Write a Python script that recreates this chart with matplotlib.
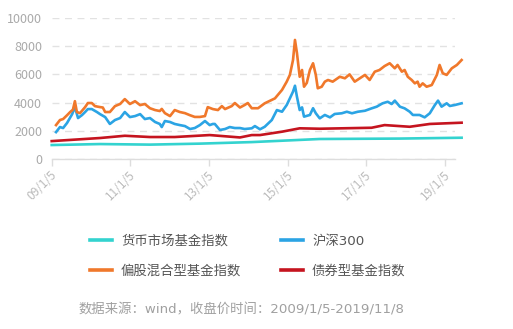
import matplotlib
matplotlib.use("Agg")
import matplotlib.pyplot as plt
from matplotlib.transforms import ScaledTranslation

plt.rcParams['font.family'] = ['Noto Sans CJK SC', 'DejaVu Sans']

# ---- data (x = years since 2009/1/5) ----
tick_years = [0, 2, 4, 6, 8, 10]
tick_labels = ['09/1/5', '11/1/5', '13/1/5', '15/1/5', '17/1/5', '19/1/5']
y_ticks = [0, 2000, 4000, 6000, 8000, 10000]

series_names = ['货币市场基金指数', '偏股混合型基金指数', '沪深300', '债券型基金指数']

mix_t = [0.11, 0.21, 0.29, 0.39, 0.47, 0.54, 0.59, 0.64, 0.72, 0.85, 0.92, 1.02, 1.10, 1.23, 1.30, 1.36,
         1.48, 1.61, 1.74, 1.86, 1.99, 2.12, 2.25, 2.37, 2.50, 2.63, 2.75, 2.80, 2.88, 3.01, 3.13, 3.26,
         3.39, 3.52, 3.64, 3.77, 3.90, 3.97, 4.10, 4.23, 4.33, 4.41, 4.58, 4.66, 4.79, 4.91, 4.99, 5.09,
         5.25, 5.42, 5.68, 5.86, 5.98, 6.06, 6.14, 6.19, 6.24, 6.31, 6.37, 6.42, 6.49, 6.57, 6.65, 6.72,
         6.77, 6.87, 6.95, 7.03, 7.15, 7.33, 7.46, 7.58, 7.71, 7.84, 7.97, 8.09, 8.22, 8.34, 8.47, 8.60,
         8.73, 8.80, 8.91, 8.98, 9.06, 9.16, 9.24, 9.31, 9.36, 9.44, 9.54, 9.67, 9.80, 9.87, 9.95, 10.05,
         10.18, 10.31, 10.43]
mix_v = [2400, 2760, 2830, 3100, 3330, 3500, 4100, 3330, 3250, 3680, 3970, 3970, 3750, 3680, 3650, 3330,
         3330, 3750, 3900, 4250, 3900, 4100, 3820, 3900, 3600, 3470, 3400, 3550, 3250, 3040, 3470, 3330,
         3250, 3100, 2980, 2980, 3040, 3680, 3540, 3470, 3750, 3540, 3750, 3970, 3650, 3830, 3970, 3600,
         3600, 3950, 4300, 4900, 5490, 5970, 7030, 8460, 7530, 5840, 6320, 5130, 5400, 6320, 6800, 5970,
         5020, 5130, 5490, 5610, 5490, 5840, 5730, 6010, 5490, 5730, 5970, 5610, 6200, 6320, 6600, 6800,
         6440, 6680, 6200, 6320, 5840, 5610, 5370, 5490, 5130, 5370, 5130, 5250, 5970, 6680, 6090, 5970,
         6440, 6680, 7030]

hs300_t = [0.11, 0.21, 0.29, 0.39, 0.52, 0.59, 0.67, 0.77, 0.85, 0.92, 1.02, 1.15, 1.23, 1.36, 1.48, 1.61,
           1.74, 1.86, 1.99, 2.12, 2.25, 2.37, 2.50, 2.63, 2.75, 2.80, 2.88, 3.01, 3.13, 3.26, 3.39, 3.52,
           3.64, 3.77, 3.90, 4.02, 4.10, 4.15, 4.28, 4.41, 4.53, 4.66, 4.79, 4.91, 5.09, 5.17, 5.30, 5.42,
           5.60, 5.73, 5.86, 5.98, 6.06, 6.14, 6.19, 6.24, 6.31, 6.37, 6.42, 6.57, 6.65, 6.72, 6.82, 6.95,
           7.08, 7.20, 7.38, 7.51, 7.64, 7.79, 7.97, 8.14, 8.27, 8.42, 8.55, 8.65, 8.73, 8.86, 8.98, 9.11,
           9.19, 9.36, 9.49, 9.62, 9.75, 9.83, 9.92, 10.05, 10.13, 10.26, 10.43]
hs300_v = [1900, 2260, 2190, 2550, 3180, 3680, 2900, 3110, 3330, 3540, 3540, 3330, 3180, 2970, 2480, 2760,
           2900, 3330, 2970, 3040, 3180, 2830, 2900, 2620, 2480, 2260, 2690, 2620, 2480, 2400, 2330, 2120,
           2190, 2400, 2690, 2400, 2480, 2480, 2050, 2120, 2260, 2190, 2190, 2120, 2170, 2330, 2100, 2280,
           2760, 3470, 3350, 3830, 4300, 4780, 5200, 4420, 3470, 3660, 3000, 3120, 3600, 3240, 2880, 3120,
           2950, 3190, 3240, 3350, 3240, 3350, 3420, 3590, 3710, 3950, 4060, 3900, 4140, 3710, 3590, 3350,
           3120, 3120, 2950, 3240, 3830, 4140, 3710, 3950, 3760, 3830, 3950]

bond_t = [0.0, 1.23, 1.86, 2.50, 3.13, 4.02, 4.79, 5.09, 5.30, 5.86, 6.31, 6.82, 8.14, 8.47, 9.11, 9.62, 10.43]
bond_v = [1260, 1480, 1640, 1550, 1550, 1690, 1520, 1690, 1690, 1930, 2170, 2140, 2210, 2400, 2280, 2480, 2570]

money_t = [0.0, 1.23, 2.50, 3.77, 5.09, 6.82, 8.86, 10.43]
money_v = [980, 1050, 1010, 1080, 1190, 1410, 1440, 1500]

colors = {'money': '#33d3cf', 'hs300': '#2ba4e4', 'mix': '#f0782b', 'bond': '#c5141f'}

fig = plt.figure(figsize=(5.13, 3.29), dpi=100)
ax = fig.add_axes([0.1008, 0.5173, 0.786, 0.4271])

lw = 1.9
l_money, = ax.plot(money_t, money_v, color=colors['money'], lw=lw, clip_on=False, zorder=3)
l_bond, = ax.plot(bond_t, bond_v, color=colors['bond'], lw=lw, clip_on=False, zorder=4)
l_hs, = ax.plot(hs300_t, hs300_v, color=colors['hs300'], lw=lw, clip_on=False, zorder=5)
l_mix, = ax.plot(mix_t, mix_v, color=colors['mix'], lw=lw, clip_on=False, zorder=6)

ax.set_xlim(0, 10.26)
ax.set_ylim(0, 10000)
ax.set_yticks(y_ticks)
ax.set_yticklabels([str(v) for v in y_ticks])
ax.set_xticks(tick_years)
ax.set_xticklabels(tick_labels, rotation=45, ha='right', va='top')

for s in ['top', 'right', 'left']:
    ax.spines[s].set_visible(False)
ax.spines['bottom'].set_color('#dddddd')
ax.spines['bottom'].set_linewidth(1)
ax.tick_params(axis='y', length=0, pad=7, labelsize=9, labelcolor='#aaaaaa')
ax.tick_params(axis='x', length=5, width=1, color='#dddddd', pad=2, labelsize=8.5, labelcolor='#bbbbbb')
ax.yaxis.grid(True, color='#e2e2e2', linestyle=(0, (5, 4)), linewidth=1)
ax.set_axisbelow(True)

off = ScaledTranslation(0.08, 0, fig.dpi_scale_trans)
for lab in ax.get_xticklabels():
    lab.set_transform(lab.get_transform() + off)

handles = [l_money, l_mix, l_hs, l_bond]
labels = [series_names[0], series_names[1], series_names[2], series_names[3]]
leg = fig.legend(handles, labels, ncol=2, loc='upper left', bbox_to_anchor=(0.176, 0.286),
                 frameon=False, fontsize=9.6, handlelength=1.6, handletextpad=0.7,
                 columnspacing=3.0, labelspacing=1.25, borderpad=0, borderaxespad=0,
                 prop={'family': ['DejaVu Sans', 'Noto Sans CJK SC'], 'size': 9.6})
for t in leg.get_texts():
    t.set_color('#555555')
for h in leg.get_lines():
    h.set_linewidth(2.6)

fig.text(79 / 513, 1 - 310 / 329, '数据来源：wind，收盘价时间：2009/1/5-2019/11/8',
         fontsize=9.6, color='#a0a0a0', va='center', ha='left',
         family=['DejaVu Sans', 'Noto Sans CJK SC'])

fig.savefig('out.png', dpi=100)
